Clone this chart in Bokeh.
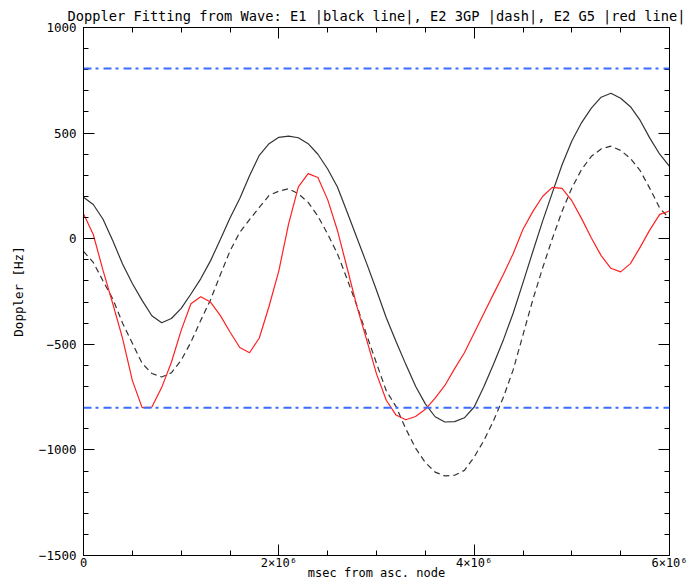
from bokeh.plotting import figure
from bokeh.models import Range1d, FixedTicker, LinearAxis, Span
from bokeh.embed import file_html
from bokeh.resources import INLINE

# ---- data ----
x_msec = [i * 100000 for i in range(61)]

e1_black = [196, 162, 92, -10, -120, -212, -292, -365, -398, -378,
            -330, -262, -190, -105, -5, 98, 190, 298, 395, 450,
            480, 486, 478, 450, 400, 330, 245, 125, 3, -118,
            -244, -374, -487, -595, -699, -782, -843, -868, -866, -848,
            -797, -700, -592, -478, -352, -208, -62, 82, 217, 350,
            463, 550, 618, 670, 689, 665, 625, 560, 475, 400, 342]

e2_3gp_dash = [-60, -112, -200, -285, -400, -495, -590, -638, -655, -635,
               -575, -490, -387, -290, -172, -58, 30, 90, 148, 205,
               225, 237, 213, 172, 107, 22, -71, -192, -318, -457,
               -590, -720, -795, -900, -992, -1060, -1105, -1123, -1120, -1097,
               -1034, -955, -860, -750, -620, -455, -290, -140, 0, 130,
               240, 328, 390, 425, 438, 418, 380, 322, 237, 145, 95]

e2_g5_red = [118, 20, -150, -308, -472, -671, -800, -797, -705, -585,
             -434, -308, -275, -300, -363, -442, -515, -540, -470, -320,
             -152, 70, 245, 308, 290, 185, 39, -140, -322, -480,
             -640, -765, -835, -857, -842, -808, -755, -695, -615, -540,
             -446, -353, -260, -168, -70, 45, 128, 200, 243, 238,
             180, 95, 3, -80, -140, -157, -118, -40, 43, 115, 131]

limit_hi = 806
limit_lo = -801

x_ticks = [0, 2000000, 4000000, 6000000]
x_tick_labels = ["0", "2×10⁶", "4×10⁶", "6×10⁶"]
x_minor = [i * 500000 for i in range(13)]
y_ticks = [-1500, -1000, -500, 0, 500, 1000]
y_minor = [v for v in range(-1500, 1001, 100)]

FONT = "DejaVu Sans Mono"

p = figure(width=691, height=583, output_backend="svg", toolbar_location=None,
           x_range=Range1d(0, 6000000), y_range=Range1d(-1500, 1000),
           min_border_left=83, min_border_right=22, min_border_top=27,
           min_border_bottom=28, x_axis_type=None, y_axis_type=None,
           title="Doppler Fitting from Wave: E1 |black line|, E2 3GP |dash|, E2 G5 |red line|")
p.title.text_font = FONT
p.title.text_font_size = "13.7px"
p.title.text_font_style = "normal"
p.title.text_color = "black"
p.title.align = "center"
p.title.standoff = 7
p.title.offset = 0
p.outline_line_color = None
p.xgrid.visible = False
p.ygrid.visible = False
p.background_fill_color = "white"
p.border_fill_color = "white"

xt = FixedTicker(ticks=x_ticks, minor_ticks=x_minor)
yt = FixedTicker(ticks=y_ticks, minor_ticks=y_minor)


def style(ax, size="12.5px"):
    ax.axis_line_color = "black"
    ax.axis_line_width = 1
    ax.major_tick_line_color = "black"
    ax.minor_tick_line_color = "black"
    ax.major_tick_in = 11
    ax.major_tick_out = 0
    ax.minor_tick_in = 5
    ax.minor_tick_out = 0
    ax.major_label_text_font = FONT
    ax.major_label_text_font_size = size
    ax.major_label_text_color = "black"
    ax.axis_label_text_font = FONT
    ax.axis_label_text_font_size = size
    ax.axis_label_text_font_style = "normal"
    ax.axis_label_text_color = "black"


xb = LinearAxis(ticker=xt, axis_label="msec from asc. node")
style(xb, "12px")
xb.major_label_overrides = {t: l for t, l in zip(x_ticks, x_tick_labels)}
xb.major_label_standoff = 0
xb.axis_label_standoff = -7
p.add_layout(xb, "below")

yl = LinearAxis(ticker=yt, axis_label="Doppler [Hz]")
style(yl)
yl.major_label_standoff = 7
yl.axis_label_standoff = 10
p.add_layout(yl, "left")

xtop = LinearAxis(ticker=xt)
style(xtop)
xtop.major_label_overrides = {t: "" for t in x_ticks}
xtop.major_label_standoff = 0
p.add_layout(xtop, "above")

yr = LinearAxis(ticker=yt)
style(yr)
yr.major_label_overrides = {t: "" for t in y_ticks}
yr.major_label_standoff = 0
p.add_layout(yr, "right")

p.line(x_msec, e1_black, line_color="#333333", line_width=1.2)
p.line(x_msec, e2_3gp_dash, line_color="#333333", line_width=1.2, line_dash="6 4")
p.line(x_msec, e2_g5_red, line_color="#ff2020", line_width=1.2)

for v in (limit_hi, limit_lo):
    p.add_layout(Span(location=v, dimension="width", line_color="#3a6cff",
                      line_width=2, line_dash="8 4 3 5"))

open("out.html", "w").write(file_html(p, INLINE))
